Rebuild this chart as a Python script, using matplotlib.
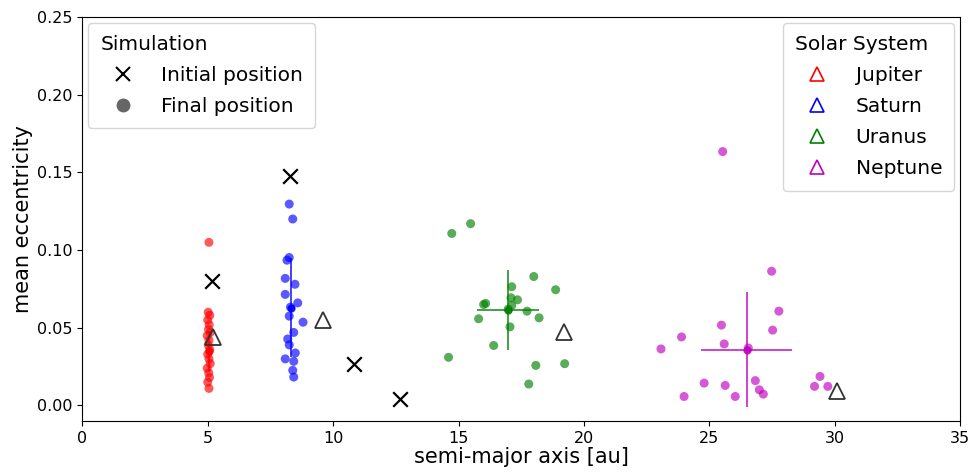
import matplotlib.pyplot as plt
from matplotlib.lines import Line2D

# final positions of the simulated planets (semi-major axis [au], mean eccentricity)
jup_a = [5.05, 5.02, 5.08, 5.00, 5.06, 5.03, 5.10, 4.98, 5.05, 5.02, 5.08, 5.00,
         5.05, 5.10, 4.98, 5.04, 5.07, 5.00, 5.05]
jup_e = [0.105, 0.060, 0.058, 0.055, 0.052, 0.049, 0.047, 0.045, 0.042, 0.039,
         0.036, 0.033, 0.030, 0.027, 0.024, 0.021, 0.018, 0.015, 0.011]

sat_a = [8.25, 8.39, 8.25, 8.16, 8.09, 8.48, 8.09, 8.59, 8.25, 8.80, 8.43, 8.19,
         8.25, 8.49, 8.09, 8.43, 8.39, 8.43, 8.30]
sat_e = [0.1296, 0.120, 0.0952, 0.0935, 0.0818, 0.078, 0.0715, 0.066, 0.0575,
         0.0536, 0.047, 0.0428, 0.039, 0.0338, 0.030, 0.0284, 0.0226, 0.0183, 0.0633]

ura_a = [15.48, 14.73, 18.00, 18.87, 17.12, 17.09, 17.35, 16.08, 16.00, 17.12,
         17.73, 18.21, 15.80, 17.05, 16.40, 14.60, 18.08, 19.23, 17.80, 16.98]
ura_e = [0.117, 0.1107, 0.083, 0.0745, 0.0764, 0.0693, 0.068, 0.0657, 0.065,
         0.0644, 0.0607, 0.0564, 0.0558, 0.0506, 0.0386, 0.031, 0.0258, 0.0269,
         0.0138, 0.062]

nep_a = [25.53, 27.48, 27.77, 27.52, 25.48, 23.89, 25.59, 23.07, 26.55, 24.79,
         25.63, 26.83, 26.99, 27.15, 26.03, 23.99, 29.41, 29.19, 29.72]
nep_e = [0.1634, 0.0864, 0.0607, 0.0485, 0.0517, 0.0441, 0.0396, 0.0364, 0.037,
         0.0144, 0.0129, 0.016, 0.0101, 0.0073, 0.0058, 0.0058, 0.0187, 0.0123, 0.0123]

# mean and spread of each group
mean_a = [5.05, 8.32, 16.96, 26.48]
mean_e = [0.035, 0.063, 0.0612, 0.036]
err_a = [0.05, 0.12, 1.23, 1.80]
err_e = [0.013, 0.032, 0.0258, 0.037]

# initial positions
init_a = [5.18, 8.29, 10.82, 12.65]
init_e = [0.080, 0.1475, 0.027, 0.004]

# real solar system
ss_names = ['Jupiter', 'Saturn', 'Uranus', 'Neptune']
ss_a = [5.20, 9.58, 19.22, 30.10]
ss_e = [0.044, 0.055, 0.047, 0.009]

colors = ['red', 'blue', 'green', 'm']

fig, ax = plt.subplots(figsize=(9.68, 4.72), dpi=100)
fig.subplots_adjust(left=0.085, right=0.992, top=0.964, bottom=0.108)

groups = [(jup_a, jup_e), (sat_a, sat_e), (ura_a, ura_e), (nep_a, nep_e)]
for i, (a, e) in enumerate(groups):
    ax.scatter(a, e, s=42, color=colors[i], alpha=0.65, edgecolors='none')
    ax.errorbar(mean_a[i], mean_e[i], xerr=err_a[i], yerr=err_e[i],
                fmt='o', ms=5, color=colors[i], alpha=0.8, lw=1.3)

ax.scatter(init_a, init_e, marker='x', s=110, color='k', linewidths=1.6)
ax.plot(ss_a, ss_e, '^', ls='none', ms=11, mfc='none', mec='0.2', mew=1.3)

ax.set_xlim(0, 35)
ax.set_ylim(-0.01, 0.25)
ax.set_xlabel('semi-major axis [au]', fontsize=15, labelpad=1)
ax.set_ylabel('mean eccentricity', fontsize=15, labelpad=3)
ax.tick_params(labelsize=11.5)

leg_kw = dict(fontsize=14.5, title_fontsize=14.5, alignment='left',
              labelspacing=0.6, borderpad=0.6, handlelength=2.2,
              borderaxespad=0.3)

sim_handles = [
    Line2D([], [], marker='x', ls='none', color='k', ms=10, mew=1.5),
    Line2D([], [], marker='o', ls='none', color='k', alpha=0.6, ms=10, mec='none'),
]
leg1 = ax.legend(sim_handles, ['Initial position', 'Final position'],
                 title='Simulation', loc='upper left', **leg_kw)
ax.add_artist(leg1)

ss_handles = [Line2D([], [], marker='^', ls='none', ms=10, mfc='none',
                     mec=c, mew=1.2) for c in colors]
ax.legend(ss_handles, ss_names, title='Solar System', loc='upper right', **leg_kw)

plt.savefig('out.png', dpi=100)
